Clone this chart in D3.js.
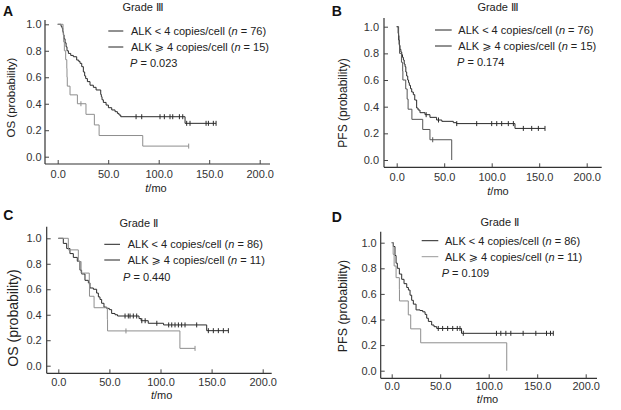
<!DOCTYPE html>
<html><head><meta charset="utf-8">
<script src="https://cdn.jsdelivr.net/npm/d3@7"></script>
<style>body{margin:0;background:#fff}svg{display:block}text{font-family:"Liberation Sans","DejaVu Sans","Noto Sans CJK SC",sans-serif;fill:#222}</style>
</head><body><svg id="c" width="621" height="410"></svg>
<script>
// ---- data ----
const xTicks = [0, 50, 100, 150, 200];
const yTicks = [0, 0.2, 0.4, 0.6, 0.8, 1.0];
const panelLetters = ["A", "B", "C", "D"];
const panelTitles = ["Grade Ⅲ", "Grade Ⅲ", "Grade Ⅱ", "Grade Ⅱ"];
const yLabels = ["OS (probability)", "PFS (probability)", "OS (probability)", "PFS (probability)"];
const nLow = [76, 76, 86, 86];
const nHigh = [15, 15, 11, 11];
const pValues = ["0.023", "0.174", "0.440", "0.109"];

// Kaplan-Meier step points [time (mo), survival after step]; censor times
const aLow = [[3.3,0.985],[4.3,0.97],[5.0,0.945],[5.6,0.92],[6.3,0.89],[7.3,0.86],[8.3,0.83],[9.2,0.80],[10.6,0.78],[12.9,0.765],[15.5,0.755],[18.8,0.73],[20.8,0.72],[22.1,0.705],[23.8,0.68],[25.4,0.64],[26.7,0.61],[27.7,0.59],[29.4,0.567],[32.0,0.54],[35.3,0.524],[38.0,0.504],[42.6,0.47],[43.2,0.453],[43.9,0.43],[45.2,0.41],[47.9,0.39],[50.2,0.37],[53.5,0.353],[56.8,0.34],[59.1,0.327],[60.7,0.315],[62.4,0.302],[126.1,0.252]];
const aLowCens = [77.6,83.2,101.3,105.6,111.2,113.9,120.5,123.8,127.7,131,146.9,149.2,154.1,156.8];
const aHigh = [[5.3,0.933],[5.9,0.867],[6.6,0.8],[7.9,0.733],[9.0,0.667],[9.2,0.6],[9.5,0.533],[12.2,0.467],[19.5,0.4],[28,0.32],[36.3,0.24],[41,0.16],[84.2,0.08]];
const aHighCens = [23, 129.7];

const bLow = [[1.5,0.95],[2.0,0.9],[2.8,0.86],[3.5,0.83],[4.4,0.81],[5.3,0.79],[6.1,0.77],[7.0,0.75],[7.9,0.72],[8.8,0.70],[9.6,0.66],[10.5,0.63],[11.6,0.60],[12.5,0.58],[13.3,0.56],[14.5,0.535],[15.8,0.51],[17.5,0.49],[19,0.45],[21,0.39],[22.5,0.375],[24.5,0.355],[29.8,0.34],[35,0.32],[42,0.30],[47.5,0.29],[59.6,0.28],[63,0.273],[124.5,0.237]];
const bLowCens = [31,44,63.2,84.2,100,105.3,110.5,117.5,122.8,133.3,142.1,149.1,156.1];
const bHigh = [[2,0.933],[2.5,0.867],[3,0.8],[5,0.733],[6.3,0.667],[6.5,0.6],[9.5,0.533],[11,0.457],[12,0.381],[16,0.305],[27.4,0.229],[35,0.152],[57.9,0]];
const bHighCens = [37.9];

const cLow = [[4.9,0.96],[8.2,0.92],[11.4,0.88],[14.7,0.85],[18.6,0.82],[21.2,0.75],[22.8,0.72],[26.1,0.67],[29.4,0.65],[31,0.61],[34.3,0.60],[37.5,0.57],[39.2,0.54],[40.8,0.52],[42.4,0.49],[44.7,0.46],[47.3,0.45],[49.9,0.44],[52.2,0.41],[55.5,0.40],[58,0.39],[79,0.37],[81,0.353],[88,0.333],[103,0.32],[145.2,0.275]];
const cLowCens = [65.3,68.5,70.2,73.4,76.7,81.7,85,96.4,108,111,114.2,117.5,120.7,124,135.4,146.8,151.7,156.6,161.5,166.4];
const cHigh = [[9.8,0.909],[19.6,0.818],[22.3,0.727],[30.3,0.636],[30.5,0.545],[35,0.455],[48,0.364],[48.2,0.273],[119,0.136]];
const cHighCens = [66.2, 133.8];

const dLow = [[1.7,0.97],[3.4,0.90],[4.5,0.84],[5.8,0.80],[7.9,0.755],[10.3,0.714],[12.7,0.68],[15.5,0.65],[17.2,0.63],[18.9,0.59],[20.6,0.55],[22.3,0.52],[25.1,0.475],[29.2,0.47],[32,0.46],[34.4,0.44],[36.1,0.41],[37.8,0.385],[41.2,0.357],[43.6,0.344],[46.4,0.33],[72,0.292]];
const dLowCens = [48,52.5,57.7,62.9,67.6,70.4,73.8,108,112.5,117.7,122.8,135.5,148.6,159.6,163.7,166.6];
const dHigh = [[1.5,0.909],[2.5,0.818],[4.5,0.727],[7.9,0.636],[8,0.545],[17.1,0.436],[19.6,0.327],[29.9,0.218],[118.6,0]];
const dHighCens = [];

const lowSteps = [aLow, bLow, cLow, dLow];
const lowCens = [aLowCens, bLowCens, cLowCens, dLowCens];
const highSteps = [aHigh, bHigh, cHigh, dHigh];
const highCens = [aHighCens, bHighCens, cHighCens, dHighCens];

// ---- layout (pixels) ----
const layout = [
  {ax:45, ay:164, xr:[57.7,259.7], xe:270, yr:[156.7,24.3], yt:20, ypad:3.5, xpad:6.2,
   letter:[3,16], title:[143,11], ylab:[10.8,97.5,11.5], xlab:[156,191.5],
   leg:{l0:108.3,l1:123.3,tx:131,r:[31,47,63],px:130}, legCol:["#222","#222"], col:["#2b2b2b","#8e8e8e"]},
  {ax:384, ay:167.3, xr:[396.7,586.7], xe:601.7, yr:[160,26.7], yt:18, ypad:5, xpad:6.2,
   letter:[331.7,16], title:[498,11], ylab:[343,103,12], xlab:[498,195],
   leg:{l0:435,l1:451.7,tx:458.3,r:[30,46,62],px:457}, legCol:["#222","#222"], col:["#2b2b2b","#555"]},
  {ax:46.7, ay:373.3, xr:[58.3,262.7], xe:271.7, yr:[365.7,238.3], yt:226.7, ypad:5, xpad:5,
   letter:[3.3,220], title:[139,226.5], ylab:[12.5,318,14], xlab:[161.7,399.3],
   leg:{l0:104.3,l1:120,tx:127.7,r:[244.3,260,277.3],px:123}, legCol:["#222","#222"], col:["#2b2b2b","#8e8e8e"]},
  {ax:380.7, ay:378.3, xr:[391.7,585.7], xe:597, yr:[370.7,242.7], yt:231.7, ypad:4, xpad:3.8,
   letter:[331.7,221.7], title:[500,225.5], ylab:[343,306,12.4], xlab:[487.5,402.5],
   leg:{l0:421.7,l1:438.3,tx:445,r:[240.7,256.7,273.3],px:441.7}, legCol:["#222","#999"], col:["#2b2b2b","#8e8e8e"]}
];

const svg = d3.select("#c");
const fmt = d3.format(".1f");

function survAt(steps, t) {
  let s = 1;
  for (const [st, sv] of steps) { if (st <= t) s = sv; else break; }
  return s;
}
function kmPoints(steps, cens) {
  const pts = [[0, 1]];
  let s = 1;
  for (const [t, v] of steps) { pts.push([t, s]); pts.push([t, v]); s = v; }
  const last = steps.length ? steps[steps.length - 1][0] : 0;
  const end = Math.max(last, ...(cens.length ? cens : [0]));
  if (end > last) pts.push([end, s]);
  return pts;
}

layout.forEach((L, i) => {
  const g = svg.append("g");
  const x = d3.scaleLinear().domain([0, 200]).range(L.xr);
  const y = d3.scaleLinear().domain([0, 1]).range(L.yr);

  // axis lines
  g.append("line").attr("x1", L.ax).attr("x2", L.ax).attr("y1", L.yt).attr("y2", L.ay)
    .attr("stroke", "#333").attr("stroke-width", 1.2);
  g.append("line").attr("x1", L.ax).attr("x2", L.xe).attr("y1", L.ay).attr("y2", L.ay)
    .attr("stroke", "#333").attr("stroke-width", 1.2);

  const ya = g.append("g").attr("transform", `translate(${L.ax},0)`)
    .call(d3.axisLeft(y).tickValues(yTicks).tickFormat(fmt).tickSize(-4).tickPadding(L.ypad));
  const xa = g.append("g").attr("transform", `translate(0,${L.ay})`)
    .call(d3.axisBottom(x).tickValues(xTicks).tickFormat(fmt).tickSize(-4).tickPadding(L.xpad));
  [ya, xa].forEach(a => {
    a.select(".domain").remove();
    a.selectAll(".tick line").attr("stroke", "#444");
    a.selectAll(".tick text").attr("font-size", 11).attr("font-family", null).style("fill", "#333");
  });

  const line = d3.line().x(d => x(d[0])).y(d => y(d[1]));
  const series = [[lowSteps[i], lowCens[i]], [highSteps[i], highCens[i]]];
  series.forEach(([steps, cens], k) => {
    g.append("path").attr("d", line(kmPoints(steps, cens)))
      .attr("fill", "none").attr("stroke", L.col[k]).attr("stroke-width", 1);
    g.selectAll(null).data(cens).enter().append("line")
      .attr("x1", d => x(d)).attr("x2", d => x(d))
      .attr("y1", d => y(survAt(steps, d)) - 2.5).attr("y2", d => y(survAt(steps, d)) + 2.5)
      .attr("stroke", L.col[k]).attr("stroke-width", 1);
  });

  // letter
  g.append("text").attr("x", L.letter[0]).attr("y", L.letter[1])
    .attr("font-size", 14).attr("font-weight", "bold").style("fill", "#111").text(panelLetters[i]);
  // title
  g.append("text").attr("x", L.title[0]).attr("y", L.title[1]).attr("text-anchor", "middle")
    .attr("font-size", 11).text(panelTitles[i]);
  // y label
  g.append("text").attr("transform", `translate(${L.ylab[0]},${L.ylab[1]}) rotate(-90)`)
    .attr("text-anchor", "middle").attr("dominant-baseline", "central")
    .attr("font-size", L.ylab[2]).text(yLabels[i]);
  // x label
  const xl = g.append("text").attr("x", L.xlab[0]).attr("y", L.xlab[1]).attr("text-anchor", "middle").attr("font-size", 11);
  xl.append("tspan").attr("font-style", "italic").text("t");
  xl.append("tspan").text("/mo");

  // legend
  const rowsTxt = [["ALK < 4 copies/cell (", nLow[i]], ["ALK ⩾ 4 copies/cell (", nHigh[i]]];
  rowsTxt.forEach((r, k) => {
    g.append("line").attr("x1", L.leg.l0).attr("x2", L.leg.l1).attr("y1", L.leg.r[k]).attr("y2", L.leg.r[k])
      .attr("stroke", L.legCol[k]).attr("stroke-width", 1);
    const t = g.append("text").attr("x", L.leg.tx).attr("y", L.leg.r[k] + 4).attr("font-size", 11);
    t.append("tspan").text(r[0]);
    t.append("tspan").attr("font-style", "italic").text("n");
    t.append("tspan").text(" = " + r[1] + ")");
  });
  const pt = g.append("text").attr("x", L.leg.px).attr("y", L.leg.r[2] + 4).attr("font-size", 11);
  pt.append("tspan").attr("font-style", "italic").text("P");
  pt.append("tspan").text(" = " + pValues[i]);
});
</script></body></html>
